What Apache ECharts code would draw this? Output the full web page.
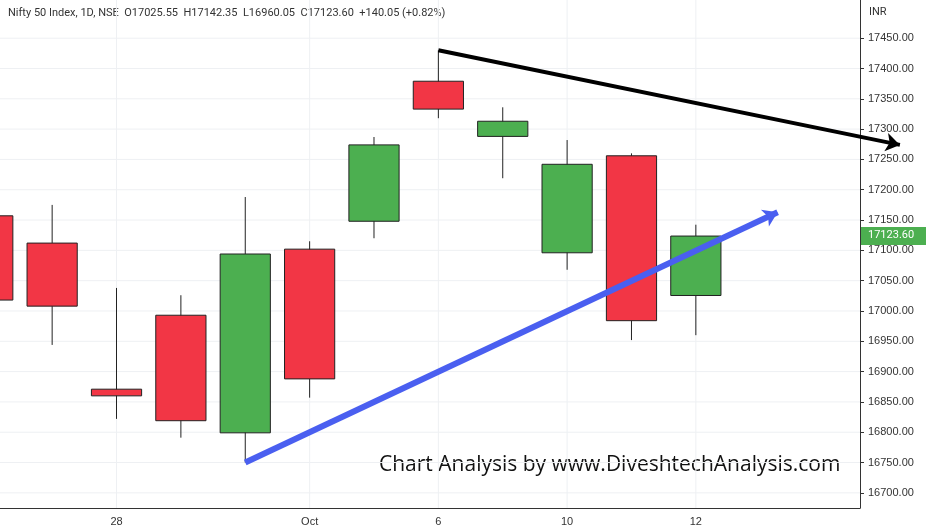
<!DOCTYPE html><html><head><meta charset="utf-8">
<script src="https://cdn.jsdelivr.net/npm/echarts@6/dist/echarts.min.js"></script>
<style>html,body{margin:0;padding:0;background:#fff}#c{width:938px;height:531px}</style></head><body><div id="c"></div>
<script>
const dayIndex=[0,1,2,3,4,5,6,7,8,9,10,11];
const opens =[17157,17112,16871,16993,16799,17102,17148,17379,17288,17096,17256,17025.55];
const closes=[17018,17008,16860,16819,17094,16888,17274,17333,17313,17242,16984,17123.60];
const highs =[17175,17175,17038,17026,17188,17115,17287,17430,17336,17282,17260,17142.35];
const lows  =[16990,16944,16822,16791,16750,16857,17120,17318,17219,17068,16952,16960.05];
const tickIdx=[2,5,7,9,11];
const tickLbl={2:'28',5:'Oct',7:'6',9:'10',11:'12'};
const yTicks=[16700,16750,16800,16850,16900,16950,17000,17050,17100,17150,17200,17250,17300,17350,17400,17450];
const blackLine=[[7,17430],[14.17,17274]];
const blueLine=[[4,16750],[12.27,17163]];
const data=dayIndex.map((d,i)=>[d,opens[i],closes[i],highs[i],lows[i]]);
const ch=echarts.init(document.getElementById('c'));
ch.setOption({
animation:false,
grid:{left:0,right:78,top:0,bottom:23},
xAxis:{type:'value',min:0.19,max:13.55,
 axisLine:{show:true,lineStyle:{color:'#333'}},axisTick:{show:false},
 axisLabel:{customValues:tickIdx,formatter:v=>tickLbl[Math.round(v)]||'',color:'#333',fontSize:11,margin:8},
 splitLine:{show:false}},
yAxis:{type:'value',position:'right',min:16675,max:17513,
 axisLine:{show:true,lineStyle:{color:'#333'}},axisTick:{show:true,length:4,customValues:yTicks,lineStyle:{color:'#333'}},
 axisLabel:{color:'#333',fontSize:11,customValues:yTicks,formatter:v=>v.toFixed(2)},
 splitLine:{show:false}},
series:[
{type:'custom',data:yTicks.map(t=>[t]),silent:true,z:0,renderItem:(p,api)=>{
 const y=api.coord([1,api.value(0)])[1];const cs=p.coordSys;
 return {type:'line',shape:{x1:cs.x,y1:y,x2:cs.x+cs.width,y2:y},style:{stroke:'#eef0f3',lineWidth:1}};},encode:{y:0}},
{type:'custom',data:tickIdx.map(t=>[t]),silent:true,z:0,renderItem:(p,api)=>{
 const x=api.coord([api.value(0),17000])[0];const cs=p.coordSys;
 return {type:'line',shape:{x1:x,y1:cs.y,x2:x,y2:cs.y+cs.height},style:{stroke:'#eef0f3',lineWidth:1}};}},
{type:'custom',data:data,clip:true,renderItem:(p,api)=>{
 const x=api.value(0),o=api.value(1),c=api.value(2),h=api.value(3),l=api.value(4);
 const po=api.coord([x,o]),pc=api.coord([x,c]),ph=api.coord([x,h]),pl=api.coord([x,l]);
 const w=api.size([1,0])[0]*0.78;const col=c>=o?'#4caf50':'#f23645';
 const top=Math.min(po[1],pc[1]),bh=Math.max(Math.abs(po[1]-pc[1]),1);
 return {type:'group',children:[
  {type:'line',shape:{x1:ph[0],y1:ph[1],x2:pl[0],y2:pl[1]},style:{stroke:'#222',lineWidth:1}},
  {type:'rect',shape:{x:po[0]-w/2,y:top,width:w,height:bh},style:{fill:col,stroke:'#222',lineWidth:1}}]};}},
{type:'lines',coordinateSystem:'cartesian2d',clip:false,symbol:['none','arrow'],symbolSize:14,z:5,
 data:[{coords:blackLine,lineStyle:{color:'#000',width:4,opacity:1}},{coords:blueLine,lineStyle:{color:'#4a5ff0',width:6,opacity:1}}]}
],
graphic:[
{type:'text',left:8,top:8,style:{text:'Nifty 50 Index, 1D, NSE  O17025.55  H17142.35  L16960.05  C17123.60  +140.05 (+0.82%)',fill:'#333',fontSize:11,fontFamily:'Roboto'}},
{type:'text',left:869,top:7,style:{text:'INR',fill:'#333',fontSize:11,fontFamily:'Roboto'}},
{type:'text',left:379,top:455,style:{text:'Chart Analysis by www.DiveshtechAnalysis.com',fill:'#111',fontSize:21,fontFamily:'Open Sans'}}
]});
const py=ch.convertToPixel({yAxisIndex:0},17123.6);
ch.setOption({graphic:[{},{},{},{type:'group',left:860,top:py-9,children:[
 {type:'rect',shape:{x:0,y:0,width:66,height:18},style:{fill:'#4caf50'}},
 {type:'text',x:8,y:3,style:{text:'17123.60',fill:'#fff',fontSize:11,fontFamily:'Roboto'}}]}]});
</script></body></html>
